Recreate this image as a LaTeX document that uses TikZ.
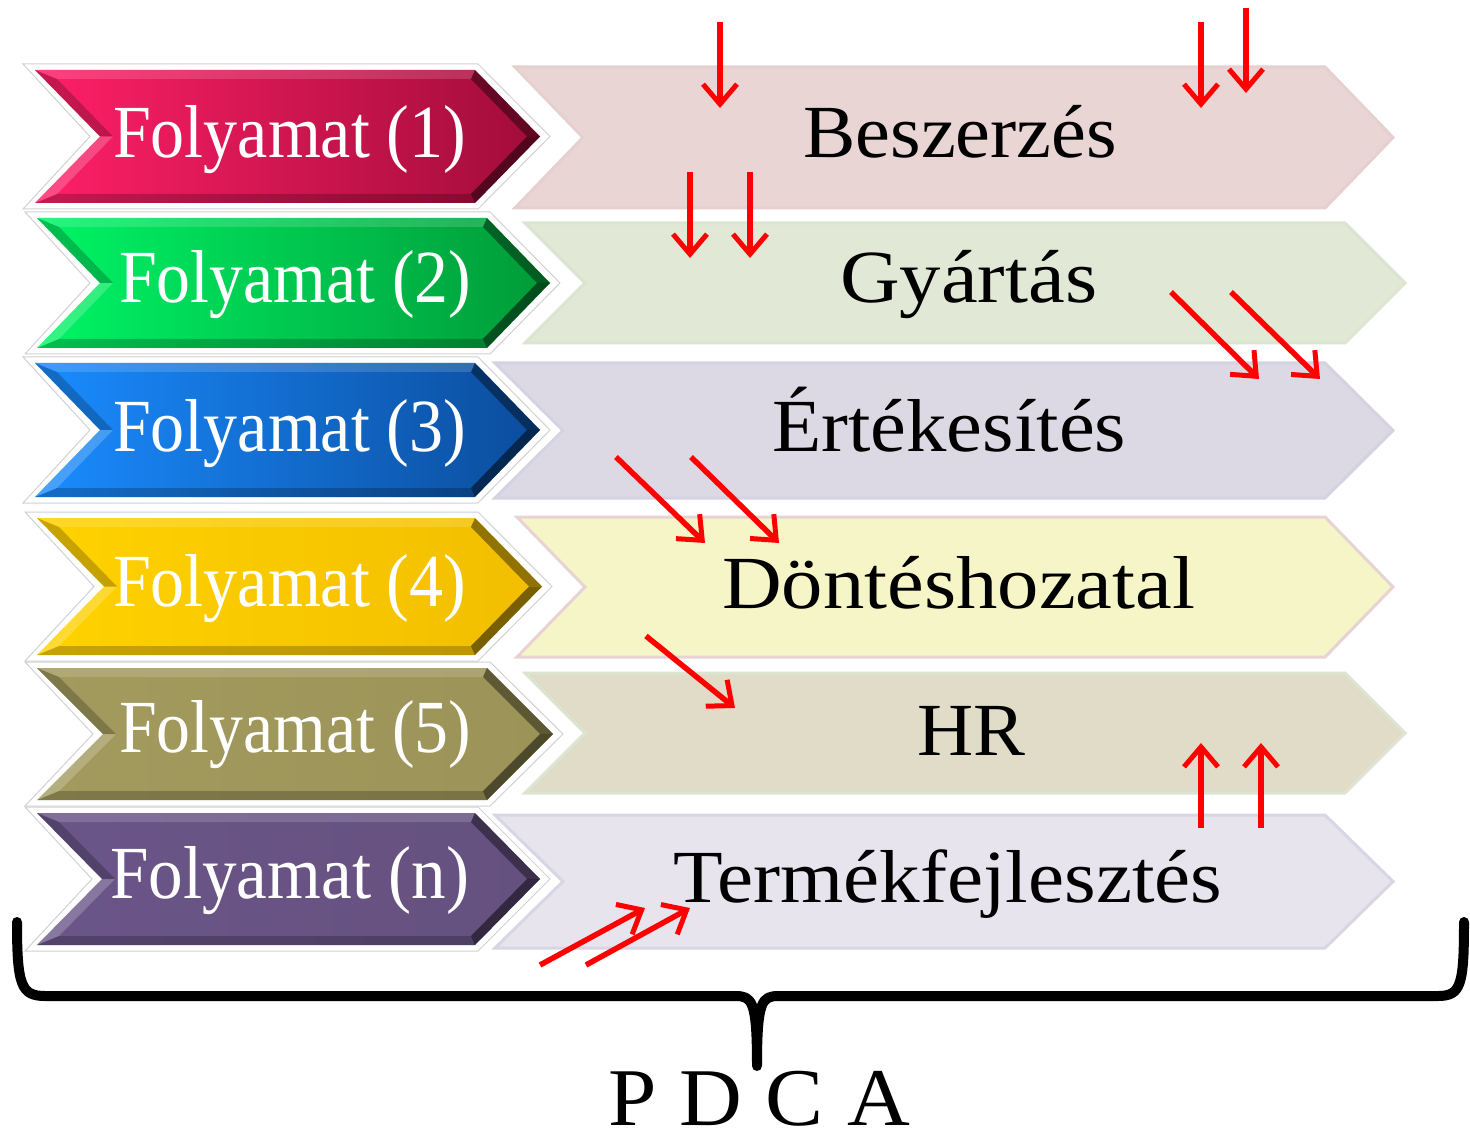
\documentclass[tikz,border=0pt]{standalone}
\usepackage{fontspec}
\setmainfont{Liberation Serif}
\usetikzlibrary{arrows.meta}
\definecolor{l1}{HTML}{FF1F68}\definecolor{d1}{HTML}{A10C3A}
\definecolor{l2}{HTML}{00F566}\definecolor{d2}{HTML}{009A38}
\definecolor{l3}{HTML}{1A8CFF}\definecolor{d3}{HTML}{0B4C9C}
\definecolor{l4}{HTML}{FFD200}\definecolor{d4}{HTML}{F2BE00}
\definecolor{l5}{HTML}{A39A5E}\definecolor{d5}{HTML}{9C9358}
\definecolor{l6}{HTML}{6B5589}\definecolor{d6}{HTML}{65517F}
\definecolor{f1}{HTML}{EAD5D5}\definecolor{b1}{HTML}{E6CFCF}
\definecolor{f2}{HTML}{E1E8D5}\definecolor{b2}{HTML}{DCE5CF}
\definecolor{f3}{HTML}{DCD9E5}\definecolor{b3}{HTML}{D5D2E2}
\definecolor{f4}{HTML}{F6F5C8}\definecolor{b4}{HTML}{E8D3D3}
\definecolor{f5}{HTML}{E0DCC8}\definecolor{b5}{HTML}{DCE5CF}
\definecolor{f6}{HTML}{E8E4EE}\definecolor{b6}{HTML}{D8D5E5}
\definecolor{arrred}{HTML}{FF0000}
\tikzset{
  redarrow/.style={draw=arrred, line width=5.5pt, -{Straight Barb[length=20pt,width=34pt,line width=5pt]}},
  lbl/.style={anchor=base west, inner sep=0pt, font=\fontsize{75}{80}\selectfont},
  rim/.style={draw=black!18, line width=1pt, fill=white},
  bracestyle/.style={draw=black, line width=10pt, line join=round, line cap=round},
}
\newcommand{\lchev}[7]{%
  \pgfmathsetmacro\cxa{#3}\pgfmathsetmacro\cxb{#4}%
  \pgfmathsetmacro\cyt{-#5}\pgfmathsetmacro\cyb{-#6}%
  \pgfmathsetmacro\cym{-(#5+#6)/2}\pgfmathsetmacro\cdd{#7}%
  \draw[rim] (\cxa-12,\cyt+6) -- (\cxb+3,\cyt+6) -- (\cxb+\cdd+10,\cym) -- (\cxb+3,\cyb-6) -- (\cxa-12,\cyb-6) -- (\cxa+\cdd-10,\cym) -- cycle;
  \shade[left color=#1, right color=#2] (\cxa,\cyt) -- (\cxb,\cyt) -- (\cxb+\cdd,\cym) -- (\cxb,\cyb) -- (\cxa,\cyb) -- (\cxa+\cdd,\cym) -- cycle;
  \fill[white, opacity=.15] (\cxa,\cyt) -- (\cxb,\cyt) -- (\cxb-4,\cyt-9) -- (\cxa+22,\cyt-9) -- cycle;
  \fill[black, opacity=.4] (\cxb,\cyt) -- (\cxb+\cdd,\cym) -- (\cxb+\cdd-13,\cym) -- (\cxb-4,\cyt-9) -- cycle;
  \fill[black, opacity=.5] (\cxb+\cdd,\cym) -- (\cxb,\cyb) -- (\cxb-4,\cyb+9) -- (\cxb+\cdd-13,\cym) -- cycle;
  \fill[black, opacity=.22] (\cxb,\cyb) -- (\cxa,\cyb) -- (\cxa+22,\cyb+9) -- (\cxb-4,\cyb+9) -- cycle;
  \fill[white, opacity=.2] (\cxa,\cyb) -- (\cxa+\cdd,\cym) -- (\cxa+\cdd+13,\cym) -- (\cxa+22,\cyb+9) -- cycle;
  \fill[black, opacity=.22] (\cxa+\cdd,\cym) -- (\cxa,\cyt) -- (\cxa+22,\cyt-9) -- (\cxa+\cdd+13,\cym) -- cycle;
}
\newcommand{\rchev}[7]{%
  \pgfmathsetmacro\cxa{#3}\pgfmathsetmacro\cxb{#4}%
  \pgfmathsetmacro\cyt{-#5}\pgfmathsetmacro\cyb{-#6}%
  \pgfmathsetmacro\cym{-(#5+#6)/2}\pgfmathsetmacro\cdd{#7}%
  \draw[draw=#2, line width=3pt, fill=#1, line join=miter] (\cxa,\cyt) -- (\cxb,\cyt) -- (\cxb+\cdd,\cym) -- (\cxb,\cyb) -- (\cxa,\cyb) -- (\cxa+\cdd,\cym) -- cycle;
}
\begin{document}
\begin{tikzpicture}[x=1pt,y=1pt]
\useasboundingbox (0,0) rectangle (1470,-1131);
\fill[white] (0,0) rectangle (1470,-1131);
% right chevrons
\rchev{f1}{b1}{515}{1325}{67}{208}{68}
\rchev{f2}{b2}{525}{1345}{223}{343}{60}
\rchev{f3}{b3}{495}{1325}{363}{498}{68}
\rchev{f4}{b4}{517}{1325}{517}{657}{68}
\rchev{f5}{b5}{525}{1345}{673}{793}{60}
\rchev{f6}{b6}{495}{1325}{815}{948}{68}
% left chevrons
\lchev{l1}{d1}{35}{475}{70}{203}{65}
\lchev{l2}{d2}{37}{487}{218}{348}{63}
\lchev{l3}{d3}{35}{475}{363}{497}{65}
\lchev{l4}{d4}{37}{475}{518}{655}{67}
\lchev{l5}{d5}{37}{487}{668}{800}{66}
\lchev{l6}{d6}{37}{475}{813}{945}{65}
% left labels
\node[lbl, text=white] (p1) at (113,-158) {\resizebox{353pt}{\height}{Folyamat (1)}};
\node[lbl, text=white] (p2) at (119,-303) {\resizebox{352pt}{\height}{Folyamat (2)}};
\node[lbl, text=white] (p3) at (113,-452) {\resizebox{353pt}{\height}{Folyamat (3)}};
\node[lbl, text=white] (p4) at (113,-606) {\resizebox{353pt}{\height}{Folyamat (4)}};
\node[lbl, text=white] (p5) at (119,-752) {\resizebox{352pt}{\height}{Folyamat (5)}};
\node[lbl, text=white] (p6) at (110,-898) {\resizebox{359pt}{\height}{Folyamat (n)}};
% right labels
\node[lbl] (r1) at (803,-158) {\resizebox{314pt}{\height}{Beszerzés}};
\node[lbl] (r2) at (840,-303) {\resizebox{257pt}{\height}{Gyártás}};
\node[lbl] (r3) at (772,-452) {\resizebox{354pt}{\height}{Értékesítés}};
\node[lbl] (r4) at (722,-608) {\resizebox{473pt}{\height}{Döntéshozatal}};
\node[lbl] (r5) at (917,-755) {\resizebox{108pt}{\height}{HR}};
\node[lbl] (r6) at (673,-902) {\resizebox{549pt}{\height}{Termékfejlesztés}};
% brace
\draw[bracestyle] (17,-922) .. controls (17,-985) and (21,-996) .. (45,-996) -- (735,-996)
  .. controls (752,-996) and (757,-1000) .. (757,-1066)
  .. controls (757,-1000) and (762,-996) .. (779,-996) -- (1438,-996)
  .. controls (1461,-996) and (1464,-985) .. (1464,-922);
\node[lbl, font=\fontsize{82}{90}\selectfont] (pdca) at (608,-1125) {\resizebox{302pt}{\height}{P\hspace{22pt}D\hspace{22pt}C\hspace{22pt}A}};
% arrows
\coordinate (s1) at (720,-22);   \coordinate (e1) at (720,-108);
\coordinate (s2) at (1201,-22);  \coordinate (e2) at (1201,-108);
\coordinate (s3) at (1246,-8);   \coordinate (e3) at (1246,-93);
\coordinate (s4) at (690,-172);  \coordinate (e4) at (690,-258);
\coordinate (s5) at (750,-172);  \coordinate (e5) at (750,-258);
\coordinate (s6) at (1171,-292); \coordinate (e6) at (1259,-379);
\coordinate (s7) at (1231,-292); \coordinate (e7) at (1320,-379);
\coordinate (s8) at (616,-457);  \coordinate (e8) at (705,-543);
\coordinate (s9) at (691,-457);  \coordinate (e9) at (779,-543);
\coordinate (s10) at (646,-636); \coordinate (e10) at (735,-708);
\coordinate (s11) at (1201,-828); \coordinate (e11) at (1201,-743);
\coordinate (s12) at (1261,-828); \coordinate (e12) at (1261,-743);
\coordinate (s13) at (540,-965); \coordinate (e13) at (645,-908);
\coordinate (s14) at (586,-965); \coordinate (e14) at (690,-908);
\foreach \i in {1,...,14} { \draw[redarrow] (s\i) -- (e\i); }
\end{tikzpicture}
\end{document}
